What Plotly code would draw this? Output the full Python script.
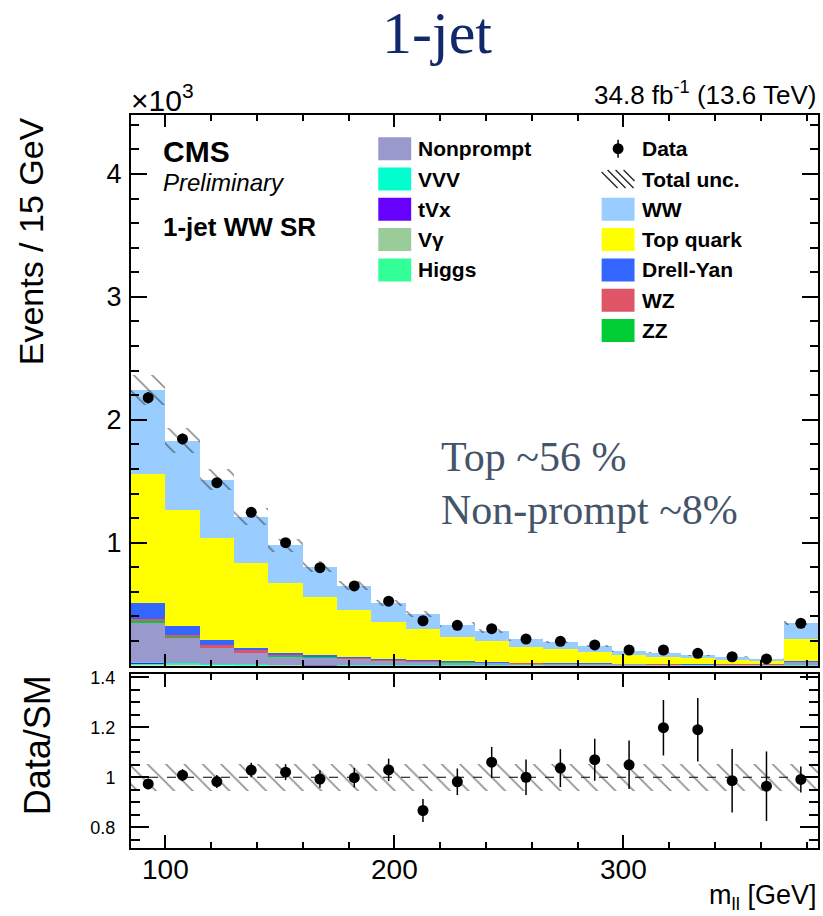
import plotly.graph_objects as go

# ---------------------------------------------------------------------------
# m_ll distribution, 1-jet WW signal region (15 GeV bins, last bin incl. overflow)
# ---------------------------------------------------------------------------
bin_edges = [85, 100, 115, 130, 145, 160, 175, 190, 205, 220, 235,
             250, 265, 280, 295, 310, 325, 340, 355, 370, 385]

# observed events per bin
data = [2180, 1844, 1488, 1247, 1000, 797, 648, 524, 365, 328,
        300, 216, 198, 168, 127, 127, 100, 72, 54, 344]

# statistical uncertainty on Data/SM per bin
ratio_err = [0.021, 0.024, 0.026, 0.029, 0.032, 0.035, 0.039, 0.045, 0.046, 0.053,
             0.061, 0.071, 0.076, 0.084, 0.097, 0.111, 0.127, 0.127, 0.139, 0.052]

# relative total (stat+syst) uncertainty of the prediction
unc_rel = [0.055, 0.055, 0.055, 0.055, 0.055, 0.055, 0.055, 0.055, 0.055, 0.055,
           0.055, 0.055, 0.055, 0.055, 0.055, 0.055, 0.055, 0.055, 0.055, 0.055]

# expected events per process (stacked bottom -> top)
higgs = [12, 7, 5, 4, 3, 2, 2, 2, 2, 1, 1, 1, 1, 1, 1, 1, 1, 1, 1, 1]
vgamma = [9, 6, 4, 3, 2, 2, 2, 1, 1, 1, 1, 1, 1, 1, 1, 0, 0, 0, 0, 1]
tvx = [4, 2, 1, 1, 1, 1, 0, 0, 0, 0, 0, 0, 0, 0, 0, 0, 0, 0, 0, 0]
vvv = [5, 3, 2, 1, 1, 1, 1, 1, 1, 1, 1, 0, 0, 0, 0, 0, 0, 0, 0, 1]
nonprompt = [322, 212, 134, 96, 71, 62, 52, 40, 32, 26, 22, 18, 15, 13, 11, 10, 8, 7, 6, 27]
zz = [7, 5, 4, 3, 2, 2, 2, 1, 1, 1, 1, 1, 1, 1, 1, 1, 1, 1, 1, 1]
wz = [20, 14, 15, 16, 6, 5, 4, 3, 3, 3, 2, 2, 2, 1, 1, 1, 1, 1, 1, 2]
drellyan = [133, 73, 43, 22, 19, 14, 9, 7, 5, 4, 3, 2, 2, 2, 1, 1, 1, 0, 0, 2]
topquark = [1047, 942, 830, 691, 565, 467, 380, 297, 250, 198, 169, 124, 111, 94, 67, 56, 46, 36, 28, 179]
ww = [681, 565, 476, 375, 310, 247, 197, 157, 126, 99, 83, 67, 58, 44, 38, 36, 26, 27, 19, 133]

processes = [
    ("Higgs", higgs, "#33FF99"),
    ("V\u03b3", vgamma, "#99CC99"),
    ("tVx", tvx, "#6600FF"),
    ("VVV", vvv, "#00FFCC"),
    ("Nonprompt", nonprompt, "#9999CC"),
    ("ZZ", zz, "#00CC33"),
    ("WZ", wz, "#DD5566"),
    ("Drell-Yan", drellyan, "#3366FF"),
    ("Top quark", topquark, "#FFFF00"),
    ("WW", ww, "#99CCFF"),
]

y_ticks_main = [1000, 2000, 3000, 4000]
y_ticktext_main = ["1", "2", "3", "4"]
y_ticks_ratio = [0.8, 1.0, 1.2, 1.4]
y_ticktext_ratio = ["0.8", "1", "1.2", "1.4"]

# ---------------------------------------------------------------------------
centers = [(a + b) / 2 for a, b in zip(bin_edges[:-1], bin_edges[1:])]
widths = [b - a for a, b in zip(bin_edges[:-1], bin_edges[1:])]
total = [sum(p[1][i] for p in processes) for i in range(len(centers))]
ratio = [d / t for d, t in zip(data, total)]
data_err = [e * t for e, t in zip(ratio_err, total)]

W, H = 823, 916
ML, MR, MT, MB = 131, 3, 115, 68
FONT = "Liberation Sans, Arial, Helvetica, sans-serif"
SERIF = "Liberation Serif, Times New Roman, serif"


def px(x):
    return (x - ML) / (W - ML - MR)


def py(y):
    return (H - MB - y) / (H - MT - MB)


fig = go.Figure()

# stacked prediction
cum = [0.0] * len(centers)
for name, vals, col in processes:
    fig.add_trace(go.Bar(
        x=centers, y=vals, base=list(cum), width=widths, name=name,
        marker=dict(color=col, line=dict(width=0)),
        xaxis="x", yaxis="y", showlegend=False,
    ))
    cum = [c + v for c, v in zip(cum, vals)]

hatch = dict(shape="\\", fgcolor="#1a1a1a", bgcolor="rgba(0,0,0,0)",
             size=13, solidity=0.12, fillmode="overlay")

# total uncertainty band on the stack
fig.add_trace(go.Bar(
    x=centers, y=[2 * u * t for u, t in zip(unc_rel, total)],
    base=[t * (1 - u) for u, t in zip(unc_rel, total)], width=widths,
    marker=dict(color="rgba(0,0,0,0)", line=dict(width=0), pattern=hatch),
    xaxis="x", yaxis="y", showlegend=False, name="Total unc.",
))

# data
fig.add_trace(go.Scatter(
    x=centers, y=data, mode="markers", name="Data",
    marker=dict(color="black", size=11),
    error_y=dict(type="data", array=data_err, color="black", thickness=1.5, width=0),
    xaxis="x", yaxis="y", showlegend=False,
))

# ratio panel: uncertainty band and data/SM
fig.add_trace(go.Bar(
    x=centers, y=[2 * u for u in unc_rel], base=[1 - u for u in unc_rel], width=widths,
    marker=dict(color="rgba(0,0,0,0)", line=dict(width=0), pattern=hatch),
    xaxis="x2", yaxis="y2", showlegend=False,
))
fig.add_trace(go.Scatter(
    x=centers, y=ratio, mode="markers",
    marker=dict(color="black", size=11),
    error_y=dict(type="data", array=ratio_err, color="black", thickness=1.5, width=0),
    xaxis="x2", yaxis="y2", showlegend=False,
))

axis_common = dict(
    showline=True, linewidth=2, linecolor="black", mirror="allticks",
    ticks="inside", tickcolor="black", tickwidth=1.5,
    showgrid=False, zeroline=False,
)
x_range = [bin_edges[0], bin_edges[-1]]

fig.update_layout(
    width=W, height=H,
    margin=dict(l=ML, r=MR, t=MT, b=MB, pad=0),
    paper_bgcolor="white", plot_bgcolor="white",
    barmode="overlay", bargap=0,
    font=dict(family=FONT, color="black"),
    xaxis=dict(domain=[0, 1], anchor="y", range=x_range, showticklabels=False,
               tick0=0, dtick=100, ticklen=12,
               minor=dict(tickmode="linear", tick0=0, dtick=20, ticklen=6,
                          ticks="inside", tickcolor="black", tickwidth=1.5),
               **axis_common),
    xaxis2=dict(domain=[0, 1], anchor="y2", range=x_range, matches="x",
                tick0=0, dtick=100, ticklen=13,
                tickfont=dict(size=28, family=FONT),
                ticklabelstandoff=-5,
                minor=dict(tickmode="linear", tick0=0, dtick=20, ticklen=6,
                           ticks="inside", tickcolor="black", tickwidth=1.5),
                **axis_common),
    yaxis=dict(domain=[py(665.6), 1], anchor="x", range=[0, 4480],
               tickmode="array", tickvals=y_ticks_main, ticktext=y_ticktext_main,
               ticklen=16, tickfont=dict(size=27, family=FONT),
               ticklabelstandoff=2,
               minor=dict(tickmode="linear", tick0=0, dtick=200, ticklen=8,
                          ticks="inside", tickcolor="black", tickwidth=1.5),
               **axis_common),
    yaxis2=dict(domain=[0, py(674)], anchor="x2", range=[0.717, 1.413],
                tickmode="array", tickvals=y_ticks_ratio, ticktext=y_ticktext_ratio,
                ticklen=18, tickfont=dict(size=18, family=FONT),
                ticklabelstandoff=10,
                minor=dict(tickmode="linear", tick0=0, dtick=0.05, ticklen=9,
                           ticks="inside", tickcolor="black", tickwidth=1.5),
                **axis_common),
)

# reference line at Data/SM = 1
fig.add_shape(type="line", xref="x2 domain", x0=0, x1=1, yref="y2", y0=1, y1=1,
              line=dict(color="black", width=1, dash="dash"), layer="below")

ann = []


def text(x, y, s, size, xanchor="left", yanchor="bottom", family=FONT, color="black",
         angle=0):
    ann.append(dict(x=px(x), y=py(y), xref="paper", yref="paper", text=s,
                    showarrow=False, xanchor=xanchor, yanchor=yanchor,
                    textangle=angle, font=dict(size=size, family=family, color=color)))


# headline and comments
text(438, 68, "1-jet", 60, xanchor="center", family=SERIF, color="#12286A")
text(440, 482, "Top ~56 %", 42, family=SERIF, color="#44546A")
text(440, 535, "Non-prompt ~8%", 42, family=SERIF, color="#44546A")

# CMS labels
text(161, 170, "<b>CMS</b>", 30)
text(161, 198, "<i>Preliminary</i>", 24)
text(161, 244, "<b>1-jet WW SR</b>", 26)
text(820, 112, "34.8 fb<sup>-1</sup> (13.6 TeV)", 26, xanchor="right")
text(129, 119, "\u00d710<sup>3</sup>", 30)

# axis titles
text(31, 115, "Events / 15 GeV", 34, xanchor="center", yanchor="top", angle=-90)
text(37, 673, "Data/SM", 36, xanchor="center", yanchor="top", angle=-90)
text(820, 916, "m<sub>ll</sub> [GeV]", 27, xanchor="right")

# legend
row0, drow = 148.7, 30.3
col1 = [("Nonprompt", "#9999CC"), ("VVV", "#00FFCC"), ("tVx", "#6600FF"),
        ("V\u03b3", "#99CC99"), ("Higgs", "#33FF99")]
col2 = [("WW", "#99CCFF"), ("Top quark", "#FFFF00"), ("Drell-Yan", "#3366FF"),
        ("WZ", "#DD5566"), ("ZZ", "#00CC33")]
shapes = []


def box(x0, x1, yc, col):
    shapes.append(dict(type="rect", xref="paper", yref="paper",
                       x0=px(x0), x1=px(x1), y0=py(yc + 11.5), y1=py(yc - 11.5),
                       fillcolor=col, line=dict(width=0)))


for i, (lab, col) in enumerate(col1):
    yc = row0 + i * drow
    box(379, 412, yc, col)
    text(417, yc, "<b>%s</b>" % lab, 21, yanchor="middle")

# Data entry
yc = row0
shapes.append(dict(type="line", xref="paper", yref="paper", x0=px(619.5), x1=px(619.5),
                   y0=py(yc - 9), y1=py(yc + 9), line=dict(color="black", width=1.5)))
shapes.append(dict(type="circle", xref="paper", yref="paper",
                   x0=px(614), x1=px(625), y0=py(yc + 5.5), y1=py(yc - 5.5),
                   fillcolor="black", line=dict(width=0)))
text(641, yc, "<b>Data</b>", 21, yanchor="middle")

# Total unc. entry (hatched)
yc = row0 + drow
for xs in [601, 609, 617, 625]:
    x_a, x_b = max(xs, 603), min(xs + 18, 636)
    shapes.append(dict(type="line", xref="paper", yref="paper",
                       x0=px(x_a), x1=px(x_b),
                       y0=py(yc - 9 + (x_a - xs)), y1=py(yc - 9 + (x_b - xs)),
                       line=dict(color="#222222", width=1.3)))
text(641, yc, "<b>Total unc.</b>", 21, yanchor="middle")

for i, (lab, col) in enumerate(col2):
    yc = row0 + (i + 2) * drow
    box(603, 636, yc, col)
    text(641, yc, "<b>%s</b>" % lab, 21, yanchor="middle")

fig.update_layout(annotations=ann, shapes=list(fig.layout.shapes) + shapes)

fig.write_html("out.html")
